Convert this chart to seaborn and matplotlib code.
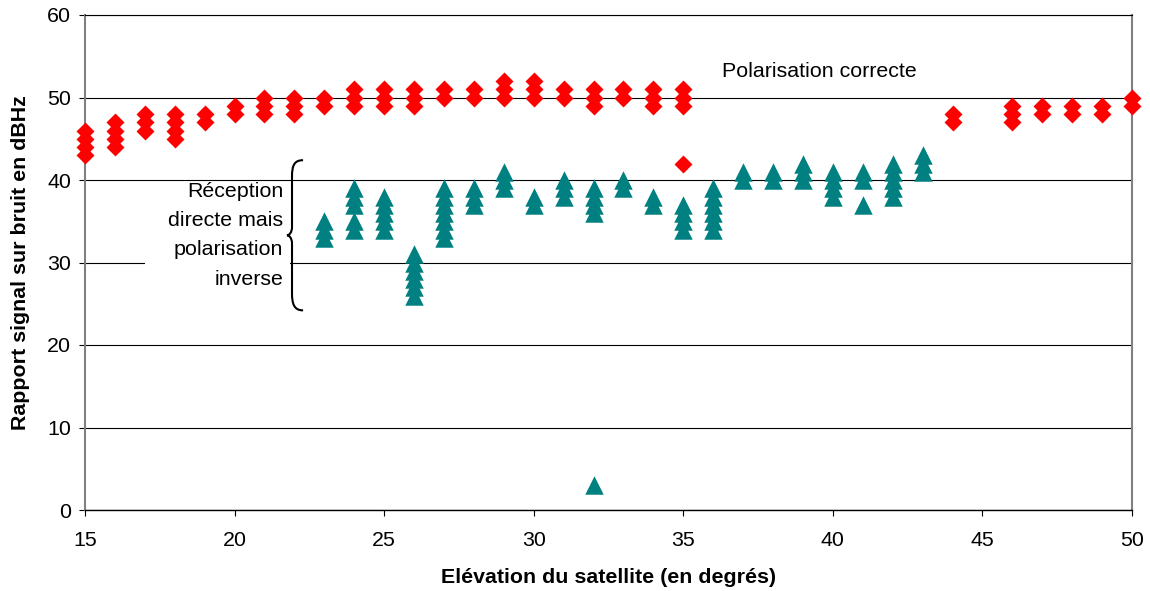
import matplotlib
matplotlib.use("Agg")
import matplotlib.pyplot as plt
from matplotlib.path import Path
from matplotlib.patches import PathPatch, Rectangle
import pandas as pd
import seaborn as sns

# C/N0 readings (dBHz) grouped by satellite elevation (degrees)
copol_elevation = [15, 16, 17, 18, 19, 20, 21, 22, 23, 24, 25, 26, 27, 28,
                   29, 30, 31, 32, 33, 34, 35, 44, 46, 47, 48, 49, 50]
copol_snr = [
    [43, 44, 45, 46], [44, 45, 46, 47], [46, 47, 48], [45, 46, 47, 48],
    [47, 48], [48, 49], [48, 49, 50], [48, 49, 50], [49, 50], [49, 50, 51],
    [49, 50, 51], [49, 50, 51], [50, 51], [50, 51], [50, 51, 52],
    [50, 51, 52], [50, 51], [49, 50, 51], [50, 51], [49, 50, 51],
    [42, 49, 50, 51], [47, 48], [47, 48, 49], [48, 49], [48, 49], [48, 49],
    [49, 50],
]

xpol_elevation = [23, 24, 25, 26, 27, 28, 29, 30, 31, 32, 33, 34, 35, 36,
                  37, 38, 39, 40, 41, 42, 43]
xpol_snr = [
    [33, 34, 35], [34, 35, 37, 38, 39], [34, 35, 36, 37, 38],
    [26, 27, 28, 29, 30, 31], [33, 34, 35, 36, 37, 38, 39], [37, 38, 39],
    [39, 40, 41], [37, 38], [38, 39, 40], [3, 36, 37, 38, 39], [39, 40],
    [37, 38], [34, 35, 36, 37], [34, 35, 36, 37, 38, 39], [40, 41],
    [40, 41], [40, 41, 42], [38, 39, 40, 41], [37, 40, 41],
    [38, 39, 40, 41, 42], [41, 42, 43],
]

x_ticks = [15, 20, 25, 30, 35, 40, 45, 50]
y_ticks = [0, 10, 20, 30, 40, 50, 60]

label_copol = "Polarisation correcte"
label_xpol = "Réception\ndirecte mais\npolarisation\ninverse"
x_title = "Elévation du satellite (en degrés)"
y_title = "Rapport signal sur bruit en dBHz"


def to_frame(elevations, groups):
    rows = [(e, v) for e, vals in zip(elevations, groups) for v in vals]
    return pd.DataFrame(rows, columns=["elevation", "snr"])


df_co = to_frame(copol_elevation, copol_snr)
df_x = to_frame(xpol_elevation, xpol_snr)

sns.set_style("white")
plt.rcParams["font.family"] = ["Liberation Sans", "DejaVu Sans"]
plt.rcParams["text.color"] = "black"
plt.rcParams["axes.labelcolor"] = "black"
plt.rcParams["xtick.color"] = "black"
plt.rcParams["ytick.color"] = "black"
FS = 15.4

fig = plt.figure(figsize=(11.5, 5.91), dpi=100)
ax = fig.add_axes([85 / 1150, 81 / 591, 1047 / 1150, 495 / 591])

sns.scatterplot(data=df_co, x="elevation", y="snr", ax=ax, marker="D",
                color="#FF0000", s=84, linewidth=0, clip_on=False,
                zorder=3, legend=False)
sns.scatterplot(data=df_x, x="elevation", y="snr", ax=ax, marker="^",
                color="#008080", s=177, linewidth=0, clip_on=False,
                zorder=3, legend=False)

ax.set_xlim(15, 50)
ax.set_ylim(0, 60)
ax.set_xticks(x_ticks)
ax.set_yticks(y_ticks)
ax.set_axisbelow(True)
ax.yaxis.grid(True, color="black", linewidth=0.8)
ax.xaxis.grid(False)

for side in ["left", "right"]:
    ax.spines[side].set_color("#808080")
    ax.spines[side].set_linewidth(1.5)
ax.spines["bottom"].set_color("black")
ax.spines["bottom"].set_linewidth(1.0)
ax.spines["top"].set_color("black")
ax.spines["top"].set_linewidth(0.8)

ax.tick_params(axis="both", direction="out", length=4, width=0.8,
               color="black", labelcolor="black", labelsize=FS,
               left=True, bottom=True)
ax.tick_params(axis="y", pad=6)
ax.tick_params(axis="x", pad=11)

ax.set_xlabel(x_title, fontsize=FS, fontweight="bold", color="black")
ax.set_ylabel(y_title, fontsize=FS, fontweight="bold", color="black")
ax.xaxis.set_label_coords(0.5, -0.117)
ax.yaxis.set_label_coords(-0.053, 0.5)

# White backing for the cross-polarisation note
ax.add_patch(Rectangle((17.0, 24.2), 4.85, 15.4, facecolor="white",
                       edgecolor="none", zorder=1))

ax.text(36.3, 53.2, label_copol, fontsize=FS, ha="left", va="center",
        color="black", zorder=4)
ax.text(21.62, 33.3, label_xpol, fontsize=FS, ha="right", va="center",
        multialignment="right", linespacing=1.68, color="black", zorder=4)

# Curly brace grouping the cross-polarised readings
verts = [
    (22.29, 42.4), (22.0, 42.4), (21.92, 41.8), (21.92, 40.4),
    (21.92, 34.3),
    (21.92, 33.6), (21.82, 33.3), (21.75, 33.3),
    (21.82, 33.3), (21.92, 33.0), (21.92, 32.3),
    (21.92, 26.3),
    (21.92, 24.9), (22.0, 24.2), (22.29, 24.2),
]
codes = [Path.MOVETO, Path.CURVE4, Path.CURVE4, Path.CURVE4,
         Path.LINETO,
         Path.CURVE4, Path.CURVE4, Path.CURVE4,
         Path.CURVE4, Path.CURVE4, Path.CURVE4,
         Path.LINETO,
         Path.CURVE4, Path.CURVE4, Path.CURVE4]
ax.add_patch(PathPatch(Path(verts, codes), facecolor="none",
                       edgecolor="black", linewidth=1.5, zorder=4))

fig.savefig("out.png", dpi=100, facecolor="white")
